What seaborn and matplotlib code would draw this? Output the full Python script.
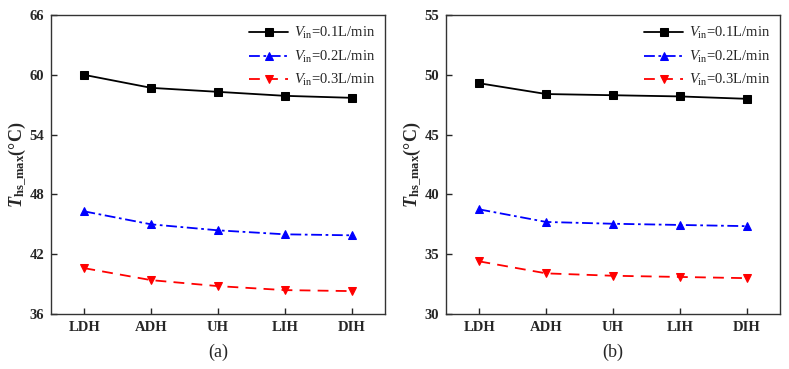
import matplotlib
matplotlib.use("Agg")
import matplotlib.pyplot as plt
import seaborn as sns
import pandas as pd

sns.set_style("ticks")
plt.rcParams['font.family'] = ['Liberation Serif', 'DejaVu Serif']
plt.rcParams['mathtext.fontset'] = 'custom'
plt.rcParams['mathtext.rm'] = 'Liberation Serif'
plt.rcParams['mathtext.it'] = 'Liberation Serif:italic'
plt.rcParams['mathtext.bf'] = 'Liberation Serif:bold'
plt.rcParams['mathtext.bfit'] = 'Liberation Serif:bold:italic'

categories = ["LDH", "ADH", "UH", "LIH", "DIH"]
series_labels = [r"$V_{\mathrm{in}}$=0.1L/min", r"$V_{\mathrm{in}}$=0.2L/min", r"$V_{\mathrm{in}}$=0.3L/min"]

a_v01 = [60.0, 58.7, 58.3, 57.9, 57.7]
a_v02 = [46.3, 45.0, 44.4, 44.0, 43.9]
a_v03 = [40.6, 39.4, 38.8, 38.4, 38.3]

b_v01 = [49.3, 48.4, 48.3, 48.2, 48.0]
b_v02 = [38.75, 37.7, 37.55, 37.45, 37.35]
b_v03 = [34.4, 33.4, 33.2, 33.1, 33.0]

a_yticks = [36, 42, 48, 54, 60, 66]
b_yticks = [30, 35, 40, 45, 50, 55]
panel_tags = ["(a)", "(b)"]

colors = ["black", "blue", "red"]
markers = ["s", "^", "v"]
linestyles = ["-", (0, (6, 2, 1.5, 2)), (0, (6, 4))]

fig = plt.figure(figsize=(7.89, 3.69), dpi=100)
ax_a = fig.add_axes([0.0646, 0.149, 0.4234, 0.810])
ax_b = fig.add_axes([0.5653, 0.149, 0.4233, 0.810])

panels = [
    (ax_a, [a_v01, a_v02, a_v03], a_yticks),
    (ax_b, [b_v01, b_v02, b_v03], b_yticks),
]

for i, (ax, data, yticks) in enumerate(panels):
    for vals, lab, c, m, ls in zip(data, series_labels, colors, markers, linestyles):
        df = pd.DataFrame({"cat": categories, "val": vals})
        sns.lineplot(data=df, x="cat", y="val", ax=ax, color=c, marker=m,
                     markersize=6, markeredgecolor=c, linewidth=1.3,
                     linestyle=ls, sort=False, label=lab)
    ax.set_xlim(-0.5, 4.5)
    ax.set_ylim(yticks[0], yticks[-1])
    ax.set_yticks(yticks)
    ax.set_xticks(range(len(categories)))
    ax.set_xticklabels(categories)
    ax.tick_params(direction="in", length=4, width=1, labelsize=10.5, pad=5)
    for t in ax.get_xticklabels() + ax.get_yticklabels():
        t.set_fontweight("bold")
    for s in ax.spines.values():
        s.set_linewidth(1.0)
        s.set_color("#333333")
    ax.set_xlabel(panel_tags[i], fontsize=13, labelpad=7)
    ax.set_ylabel(r"$\mathbfit{T}_{\mathbf{hs\_max}}$(°C)", fontsize=13,
                  fontweight="bold", labelpad=0)
    leg = ax.legend(loc="upper right", frameon=False, fontsize=10.5,
                    handlelength=2.7, handletextpad=0.35, labelspacing=0.5,
                    borderaxespad=0.3)

fig.savefig("out.png", dpi=100)
